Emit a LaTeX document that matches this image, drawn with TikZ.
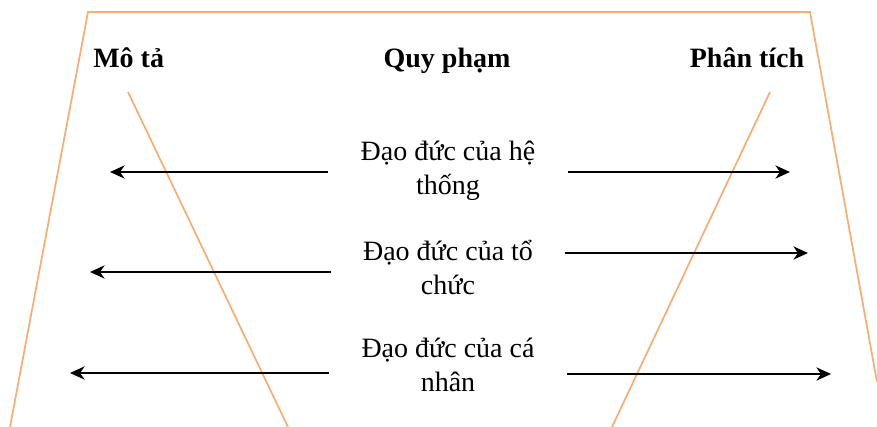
\documentclass[tikz,border=0pt]{standalone}
\usepackage{fontspec}
\setmainfont{Liberation Serif}
\usetikzlibrary{arrows.meta, positioning}
\definecolor{FrameOrange}{HTML}{F7AE74}

\begin{document}
\begin{tikzpicture}[x=0.75pt, y=-0.75pt, >={Stealth[length=11pt, width=10pt, inset=3.5pt]},
                head/.style={font=\fontsize{21}{25}\selectfont\bfseries, inner sep=0pt},
                lvl/.style={font=\fontsize{21}{25.5}\selectfont, align=center, inner xsep=24pt, inner ysep=0pt},
                frame/.style={FrameOrange, line width=1.3pt},
                arrow/.style={->, black, line width=1pt}]
                \useasboundingbox (0,0) rectangle (877,427);
                % khung ngoai va hai duong cheo
                \draw[frame] (10,427) -- (88,12) -- (810,12) -- (877,382);
                \draw[frame] (128,92) -- (288,427);
                \draw[frame] (770,92) -- (612,427);

                \node[head, anchor=base west] (mota) at (93,68) {Mô tả};
                \node[head, anchor=base] (quypham) at (447,68) {Quy phạm};
                \node[head, anchor=base] (phantich) at (747,68) {Phân tích};

                \node[lvl] (hethong) at (448,171) {Đạo đức của hệ\\thống};
                \node[lvl] (tochuc) at (448,267) {Đạo đức của tổ\\chức};
                \node[lvl] (canhan) at (448,365) {Đạo đức của cá\\nhân};

                \coordinate (hetL) at (110,172);
                \coordinate (hetR) at (790,172);
                \coordinate (toL) at (90,272);
                \coordinate (toR) at (808,253);
                \coordinate (caL) at (70,373);
                \coordinate (caR) at (831,374);

                \draw[arrow] (hethong.west |- hetL) -- (hetL);
                \draw[arrow] (hethong.east |- hetR) -- (hetR);
                \draw[arrow] (tochuc.west |- toL) -- (toL);
                \draw[arrow] (tochuc.east |- toR) -- (toR);
                \draw[arrow] (canhan.west |- caL) -- (caL);
                \draw[arrow] (canhan.east |- caR) -- (caR);
            \end{tikzpicture}
\end{document}
